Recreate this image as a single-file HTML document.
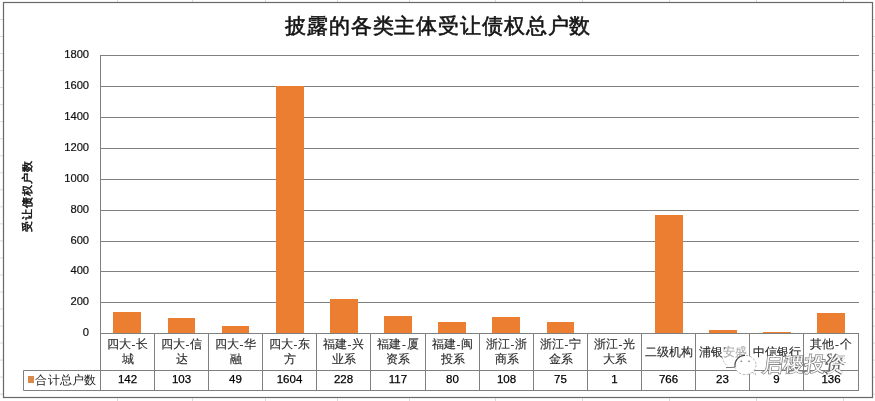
<!DOCTYPE html>
<html><head><meta charset="utf-8"><style>
html,body{margin:0;padding:0;background:#fff;width:875px;height:401px;overflow:hidden}
svg{display:block;will-change:transform;font-family:"Liberation Sans",sans-serif}
</style></head><body>
<svg width="875" height="401" viewBox="0 0 875 401">

<path d="M117.5,0V2.2M117.5,398.2V401M192.5,0V2.2M192.5,398.2V401M265.5,0V2.2M265.5,398.2V401M337.5,0V2.2M337.5,398.2V401M409.5,0V2.2M409.5,398.2V401M495.5,0V2.2M495.5,398.2V401M582.5,0V2.2M582.5,398.2V401M669.5,0V2.2M669.5,398.2V401M756.5,0V2.2M756.5,398.2V401M843.5,0V2.2M843.5,398.2V401M0,19.5H3M873,19.5H875M0,36.53H3M873,36.53H875M0,53.56H3M873,53.56H875M0,70.59H3M873,70.59H875M0,87.62H3M873,87.62H875M0,104.65H3M873,104.65H875M0,121.68H3M873,121.68H875M0,138.71H3M873,138.71H875M0,155.74H3M873,155.74H875M0,172.77H3M873,172.77H875M0,189.8H3M873,189.8H875M0,206.83H3M873,206.83H875M0,223.86H3M873,223.86H875M0,240.89H3M873,240.89H875M0,257.92H3M873,257.92H875M0,274.95H3M873,274.95H875M0,291.98H3M873,291.98H875M0,309.01H3M873,309.01H875M0,326.04H3M873,326.04H875M0,343.07H3M873,343.07H875M0,360.1H3M873,360.1H875M0,377.13H3M873,377.13H875M0,394.16H3M873,394.16H875" stroke="#dadada" stroke-width="1" fill="none"/>
<rect x="3.5" y="2.5" width="869" height="395" fill="#fff" stroke="#686868" stroke-width="1.2"/>
<text x="438.2" y="32.6" text-anchor="middle" font-size="20.5" letter-spacing="0.87" fill="#141414" stroke="#141414" stroke-width="0.6">披露的各类主体受让债权总户数</text>
<text transform="translate(30.8,196.2) rotate(-90)" text-anchor="middle" font-size="11.2" letter-spacing="1.0" fill="#111" stroke="#111" stroke-width="0.5">受让债权户数</text>
<text x="89.1" y="336.40" text-anchor="end" font-size="11.2" fill="#111" stroke="#111" stroke-width="0.2">0</text>
<line x1="100.5" y1="302.5" x2="859.0" y2="302.5" stroke="#808080" stroke-width="1"/>
<text x="89.1" y="305.40" text-anchor="end" font-size="11.2" fill="#111" stroke="#111" stroke-width="0.2">200</text>
<line x1="100.5" y1="271.5" x2="859.0" y2="271.5" stroke="#808080" stroke-width="1"/>
<text x="89.1" y="274.40" text-anchor="end" font-size="11.2" fill="#111" stroke="#111" stroke-width="0.2">400</text>
<line x1="100.5" y1="241.5" x2="859.0" y2="241.5" stroke="#808080" stroke-width="1"/>
<text x="89.1" y="244.40" text-anchor="end" font-size="11.2" fill="#111" stroke="#111" stroke-width="0.2">600</text>
<line x1="100.5" y1="210.5" x2="859.0" y2="210.5" stroke="#808080" stroke-width="1"/>
<text x="89.1" y="213.40" text-anchor="end" font-size="11.2" fill="#111" stroke="#111" stroke-width="0.2">800</text>
<line x1="100.5" y1="179.5" x2="859.0" y2="179.5" stroke="#808080" stroke-width="1"/>
<text x="89.1" y="182.40" text-anchor="end" font-size="11.2" fill="#111" stroke="#111" stroke-width="0.2">1000</text>
<line x1="100.5" y1="148.5" x2="859.0" y2="148.5" stroke="#808080" stroke-width="1"/>
<text x="89.1" y="151.40" text-anchor="end" font-size="11.2" fill="#111" stroke="#111" stroke-width="0.2">1200</text>
<line x1="100.5" y1="117.5" x2="859.0" y2="117.5" stroke="#808080" stroke-width="1"/>
<text x="89.1" y="120.40" text-anchor="end" font-size="11.2" fill="#111" stroke="#111" stroke-width="0.2">1400</text>
<line x1="100.5" y1="86.5" x2="859.0" y2="86.5" stroke="#808080" stroke-width="1"/>
<text x="89.1" y="89.40" text-anchor="end" font-size="11.2" fill="#111" stroke="#111" stroke-width="0.2">1600</text>
<line x1="100.5" y1="55.5" x2="859.0" y2="55.5" stroke="#808080" stroke-width="1"/>
<text x="89.1" y="58.40" text-anchor="end" font-size="11.2" fill="#111" stroke="#111" stroke-width="0.2">1800</text>
<rect x="113" y="312" width="28" height="21" fill="#EC7E31"/>
<rect x="168" y="318" width="27" height="15" fill="#EC7E31"/>
<rect x="222" y="326" width="27" height="7" fill="#EC7E31"/>
<rect x="276" y="86" width="28" height="247" fill="#EC7E31"/>
<rect x="330" y="299" width="28" height="34" fill="#EC7E31"/>
<rect x="384" y="316" width="28" height="17" fill="#EC7E31"/>
<rect x="438" y="322" width="28" height="11" fill="#EC7E31"/>
<rect x="492" y="317" width="28" height="16" fill="#EC7E31"/>
<rect x="547" y="322" width="27" height="11" fill="#EC7E31"/>
<rect x="655" y="215" width="28" height="118" fill="#EC7E31"/>
<rect x="709" y="330" width="28" height="3" fill="#EC7E31"/>
<rect x="763" y="332" width="28" height="1" fill="#EC7E31"/>
<rect x="817" y="313" width="28" height="20" fill="#EC7E31"/>
<line x1="100.5" y1="333.5" x2="859.0" y2="333.5" stroke="#808080" stroke-width="1"/>
<line x1="23.5" y1="370.5" x2="859.0" y2="370.5" stroke="#808080" stroke-width="1"/>
<line x1="23.5" y1="390.5" x2="859.0" y2="390.5" stroke="#808080" stroke-width="1"/>
<line x1="23.5" y1="370.5" x2="23.5" y2="390.5" stroke="#808080" stroke-width="1"/>
<line x1="100.5" y1="55" x2="100.5" y2="391.0" stroke="#808080" stroke-width="1"/>
<line x1="154.5" y1="333.5" x2="154.5" y2="391.0" stroke="#808080" stroke-width="1"/>
<line x1="208.5" y1="333.5" x2="208.5" y2="391.0" stroke="#808080" stroke-width="1"/>
<line x1="262.5" y1="333.5" x2="262.5" y2="391.0" stroke="#808080" stroke-width="1"/>
<line x1="316.5" y1="333.5" x2="316.5" y2="391.0" stroke="#808080" stroke-width="1"/>
<line x1="370.5" y1="333.5" x2="370.5" y2="391.0" stroke="#808080" stroke-width="1"/>
<line x1="425.5" y1="333.5" x2="425.5" y2="391.0" stroke="#808080" stroke-width="1"/>
<line x1="479.5" y1="333.5" x2="479.5" y2="391.0" stroke="#808080" stroke-width="1"/>
<line x1="533.5" y1="333.5" x2="533.5" y2="391.0" stroke="#808080" stroke-width="1"/>
<line x1="587.5" y1="333.5" x2="587.5" y2="391.0" stroke="#808080" stroke-width="1"/>
<line x1="641.5" y1="333.5" x2="641.5" y2="391.0" stroke="#808080" stroke-width="1"/>
<line x1="695.5" y1="333.5" x2="695.5" y2="391.0" stroke="#808080" stroke-width="1"/>
<line x1="749.5" y1="333.5" x2="749.5" y2="391.0" stroke="#808080" stroke-width="1"/>
<line x1="803.5" y1="333.5" x2="803.5" y2="391.0" stroke="#808080" stroke-width="1"/>
<line x1="858.5" y1="333.5" x2="858.5" y2="391.0" stroke="#808080" stroke-width="1"/>
<text x="127.50" y="348.1" text-anchor="middle" font-size="11.5" fill="#2c2c2c" stroke="#2c2c2c" stroke-width="0.15">四大<tspan dx="1">-</tspan><tspan dx="1">长</tspan></text>
<text x="127.50" y="363.4" text-anchor="middle" font-size="11.5" fill="#2c2c2c" stroke="#2c2c2c" stroke-width="0.15">城</text>
<text x="127.50" y="382.8" text-anchor="middle" font-size="11.5" fill="#000" stroke="#000" stroke-width="0.25">142</text>
<text x="181.50" y="348.1" text-anchor="middle" font-size="11.5" fill="#2c2c2c" stroke="#2c2c2c" stroke-width="0.15">四大<tspan dx="1">-</tspan><tspan dx="1">信</tspan></text>
<text x="181.50" y="363.4" text-anchor="middle" font-size="11.5" fill="#2c2c2c" stroke="#2c2c2c" stroke-width="0.15">达</text>
<text x="181.50" y="382.8" text-anchor="middle" font-size="11.5" fill="#000" stroke="#000" stroke-width="0.25">103</text>
<text x="235.50" y="348.1" text-anchor="middle" font-size="11.5" fill="#2c2c2c" stroke="#2c2c2c" stroke-width="0.15">四大<tspan dx="1">-</tspan><tspan dx="1">华</tspan></text>
<text x="235.50" y="363.4" text-anchor="middle" font-size="11.5" fill="#2c2c2c" stroke="#2c2c2c" stroke-width="0.15">融</text>
<text x="235.50" y="382.8" text-anchor="middle" font-size="11.5" fill="#000" stroke="#000" stroke-width="0.25">49</text>
<text x="289.50" y="348.1" text-anchor="middle" font-size="11.5" fill="#2c2c2c" stroke="#2c2c2c" stroke-width="0.15">四大<tspan dx="1">-</tspan><tspan dx="1">东</tspan></text>
<text x="289.50" y="363.4" text-anchor="middle" font-size="11.5" fill="#2c2c2c" stroke="#2c2c2c" stroke-width="0.15">方</text>
<text x="289.50" y="382.8" text-anchor="middle" font-size="11.5" fill="#000" stroke="#000" stroke-width="0.25">1604</text>
<text x="343.50" y="348.1" text-anchor="middle" font-size="11.5" fill="#2c2c2c" stroke="#2c2c2c" stroke-width="0.15">福建<tspan dx="1">-</tspan><tspan dx="1">兴</tspan></text>
<text x="343.50" y="363.4" text-anchor="middle" font-size="11.5" fill="#2c2c2c" stroke="#2c2c2c" stroke-width="0.15">业系</text>
<text x="343.50" y="382.8" text-anchor="middle" font-size="11.5" fill="#000" stroke="#000" stroke-width="0.25">228</text>
<text x="398.00" y="348.1" text-anchor="middle" font-size="11.5" fill="#2c2c2c" stroke="#2c2c2c" stroke-width="0.15">福建<tspan dx="1">-</tspan><tspan dx="1">厦</tspan></text>
<text x="398.00" y="363.4" text-anchor="middle" font-size="11.5" fill="#2c2c2c" stroke="#2c2c2c" stroke-width="0.15">资系</text>
<text x="398.00" y="382.8" text-anchor="middle" font-size="11.5" fill="#000" stroke="#000" stroke-width="0.25">117</text>
<text x="452.50" y="348.1" text-anchor="middle" font-size="11.5" fill="#2c2c2c" stroke="#2c2c2c" stroke-width="0.15">福建<tspan dx="1">-</tspan><tspan dx="1">闽</tspan></text>
<text x="452.50" y="363.4" text-anchor="middle" font-size="11.5" fill="#2c2c2c" stroke="#2c2c2c" stroke-width="0.15">投系</text>
<text x="452.50" y="382.8" text-anchor="middle" font-size="11.5" fill="#000" stroke="#000" stroke-width="0.25">80</text>
<text x="506.50" y="348.1" text-anchor="middle" font-size="11.5" fill="#2c2c2c" stroke="#2c2c2c" stroke-width="0.15">浙江<tspan dx="1">-</tspan><tspan dx="1">浙</tspan></text>
<text x="506.50" y="363.4" text-anchor="middle" font-size="11.5" fill="#2c2c2c" stroke="#2c2c2c" stroke-width="0.15">商系</text>
<text x="506.50" y="382.8" text-anchor="middle" font-size="11.5" fill="#000" stroke="#000" stroke-width="0.25">108</text>
<text x="560.50" y="348.1" text-anchor="middle" font-size="11.5" fill="#2c2c2c" stroke="#2c2c2c" stroke-width="0.15">浙江<tspan dx="1">-</tspan><tspan dx="1">宁</tspan></text>
<text x="560.50" y="363.4" text-anchor="middle" font-size="11.5" fill="#2c2c2c" stroke="#2c2c2c" stroke-width="0.15">金系</text>
<text x="560.50" y="382.8" text-anchor="middle" font-size="11.5" fill="#000" stroke="#000" stroke-width="0.25">75</text>
<text x="614.50" y="348.1" text-anchor="middle" font-size="11.5" fill="#2c2c2c" stroke="#2c2c2c" stroke-width="0.15">浙江<tspan dx="1">-</tspan><tspan dx="1">光</tspan></text>
<text x="614.50" y="363.4" text-anchor="middle" font-size="11.5" fill="#2c2c2c" stroke="#2c2c2c" stroke-width="0.15">大系</text>
<text x="614.50" y="382.8" text-anchor="middle" font-size="11.5" fill="#000" stroke="#000" stroke-width="0.25">1</text>
<text x="668.50" y="355.6" text-anchor="middle" font-size="11.5" fill="#2c2c2c" stroke="#2c2c2c" stroke-width="0.15">二级机构</text>
<text x="668.50" y="382.8" text-anchor="middle" font-size="11.5" fill="#000" stroke="#000" stroke-width="0.25">766</text>
<text x="722.50" y="355.6" text-anchor="middle" font-size="11.5" fill="#2c2c2c" stroke="#2c2c2c" stroke-width="0.15">浦银安盛</text>
<text x="722.50" y="382.8" text-anchor="middle" font-size="11.5" fill="#000" stroke="#000" stroke-width="0.25">23</text>
<text x="776.50" y="355.6" text-anchor="middle" font-size="11.5" fill="#2c2c2c" stroke="#2c2c2c" stroke-width="0.15">中信银行</text>
<text x="776.50" y="382.8" text-anchor="middle" font-size="11.5" fill="#000" stroke="#000" stroke-width="0.25">9</text>
<text x="831.00" y="348.1" text-anchor="middle" font-size="11.5" fill="#2c2c2c" stroke="#2c2c2c" stroke-width="0.15">其他<tspan dx="1">-</tspan><tspan dx="1">个</tspan></text>
<text x="831.00" y="363.4" text-anchor="middle" font-size="11.5" fill="#2c2c2c" stroke="#2c2c2c" stroke-width="0.15">人</text>
<text x="831.00" y="382.8" text-anchor="middle" font-size="11.5" fill="#000" stroke="#000" stroke-width="0.25">136</text>
<rect x="28" y="376" width="6" height="7" fill="#D9894A"/>
<text x="35.4" y="384" font-size="11.7" letter-spacing="0.2" fill="#222">合计总户数</text>
<path d="M726.5,365.5 C722,362 721.5,357 722.5,353 C724.5,346 731,343.5 736,343.5 C742,343.5 746.5,346 748,350 L748,357 L735,367.5 L727,367.5 Z" fill="#fff" fill-opacity="0.6"/>
<path d="M722.3,357.5 C723,361 725,364 727.5,366" fill="none" stroke="#999" stroke-width="0.7" stroke-dasharray="2 1.2"/>
<path d="M726,367.6 L735,367.3" fill="none" stroke="#666" stroke-width="0.9"/>
<g fill="#fff" stroke="#9a9a9a" stroke-width="0.7" stroke-dasharray="2.5 1.5">
<ellipse cx="745.3" cy="365" rx="10.7" ry="9.6"/>
<path d="M752,372 L755.5,375 L754.5,370" />
</g>
<path d="M735,367 C734.5,360 739,355.5 745,355.4" fill="none" stroke="#444" stroke-width="1.1"/>
<g fill="#666"><circle cx="741.3" cy="361.3" r="0.8"/><circle cx="749" cy="361.3" r="0.8"/></g>
<g transform="translate(804.3,370.5) skewX(-7)" font-size="20.5" text-anchor="middle"><text x="-0.7" y="0.6" fill="#666" stroke="#666" stroke-width="1.5">启稷投资</text><text x="0" y="0" fill="#fff" stroke="#fff" stroke-width="0.2">启稷投资</text></g>
</svg></body></html>
